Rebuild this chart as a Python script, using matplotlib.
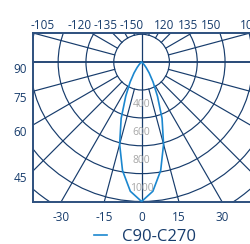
import numpy as np
import matplotlib
matplotlib.use('Agg')
from matplotlib import pyplot as plt
from matplotlib.patches import Circle
from matplotlib.transforms import ScaledTranslation

plt.rcParams['font.family'] = ['Open Sans', 'DejaVu Sans']

# C90-C270 intensity (cd) vs angle from nadir (deg)
angles = [0, 5, 10, 15, 20, 25, 30, 35, 40, 45, 50, 55, 60, 70, 80, 90]
intensity = [1000, 930, 790, 610, 430, 270, 165, 95, 50, 25, 12, 5, 2, 0, 0, 0]

rings = [200, 400, 600, 800, 1000, 1200, 1400]
ring_labels = ['400', '600', '800', '1000']
left_ticks = [90, 75, 60, 45]
bottom_ticks = [-30, -15, 0, 15, 30]
top_labels = ['-105', '-120', '-135', '-150', '120', '135', '150', '105']
top_pos = [-710, -444, -257, -70, 160, 333, 498, 779]

navy = '#173c6c'
blue = '#1b87cf'

fig = plt.figure(figsize=(2.5, 2.44), dpi=100)
ax = fig.add_axes([32.7/250, 42.5/244, 217.8/250, 168.5/244])
xmax, ymin, ymax = 783, -1000, 209
ax.set_xlim(-xmax, xmax)
ax.set_ylim(ymin, ymax)

# grid: rings + spokes
for r in rings:
    ax.add_patch(Circle((0, 0), r, fill=False, ec=navy, lw=0.85, zorder=1))
for a in range(0, 360, 15):
    t = np.radians(a)
    if a % 90 == 0:
        continue
    ax.plot([200*np.sin(t), 3000*np.sin(t)], [-200*np.cos(t), -3000*np.cos(t)],
            color=navy, lw=0.85, zorder=1)
ax.axhline(0, color=navy, lw=1.3, zorder=1)
ax.axvline(0, color=navy, lw=0.9, zorder=1)

# curve, mirrored both sides
th = np.radians(np.r_[-np.array(angles[::-1]), np.array(angles[1:])])
ii = np.r_[intensity[::-1], intensity[1:]]
ax.plot(ii*np.sin(th), -ii*np.cos(th), color=blue, lw=1.2, zorder=3,
        label='C90-C270')

for lab in ring_labels:
    ax.text(0, -(int(lab) - 95), lab, ha='center', va='center',
            color='#a6a6a6', fontsize=7.5, zorder=4)

for s in ax.spines.values():
    s.set_color('#2d507e')
    s.set_linewidth(1.4)

ax.set_yticks([-xmax/np.tan(np.radians(a)) for a in left_ticks])
ax.set_yticklabels([str(a) for a in left_ticks])
ax.set_xticks([-ymin*np.tan(np.radians(a)) for a in bottom_ticks])
ax.set_xticklabels([str(a) for a in bottom_ticks])
ax.tick_params(length=0, labelsize=8.5, colors=navy)
ax.tick_params(axis='x', pad=7)
ax.tick_params(axis='y', pad=4)
off = ScaledTranslation(0, -4/72, fig.dpi_scale_trans)
for lbl in ax.get_yticklabels():
    lbl.set_transform(lbl.get_transform() + off)

top = ax.secondary_xaxis('top')
top.set_xticks(top_pos)
top.set_xticklabels(top_labels)
top.tick_params(length=0, labelsize=8.5, colors=navy, pad=1)
top.spines['top'].set_visible(False)

fig.legend(loc='center', bbox_to_anchor=(0.58, 0.03), frameon=False,
           fontsize=12, handlelength=0.8, handletextpad=0.9,
           labelcolor=navy, borderpad=0)

fig.savefig('out.png', dpi=100)
